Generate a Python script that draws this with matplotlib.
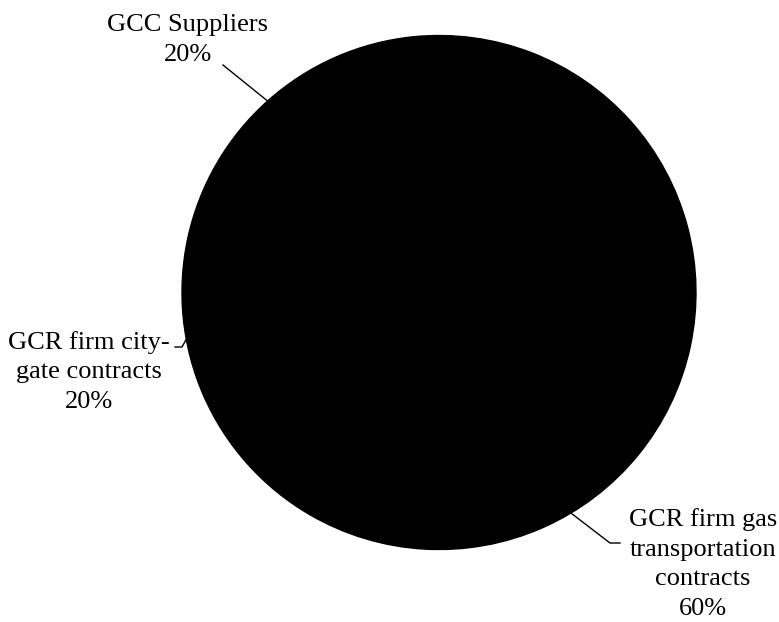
import numpy as np
import matplotlib.pyplot as plt

plt.rcParams['font.family'] = ['Liberation Serif', 'DejaVu Serif']

labels = ['GCC Suppliers\n20%',
          'GCR firm city-\ngate contracts\n20%',
          'GCR firm gas\ntransportation\ncontracts\n60%']
values = [20, 20, 60]

W, H = 779, 622
CENTER = (439, H - 292.5)
RADIUS = 257

# label block centres (pixels, y measured from the bottom)
label_pos = [(188, H - 40), (89, H - 372), (703, H - 564)]
# leader lines: angle where it meets the pie edge, then the path to the text
leader_angle = [131.8, 190.2, 300.8]
leader_path = [
    [(223, H - 65)],
    [(182, H - 347), (175, H - 347)],
    [(610, H - 543), (620, H - 543)],
]

fig = plt.figure(figsize=(W / 100, H / 100), dpi=100)
ax = fig.add_axes([0, 0, 1, 1])

ax.pie(values, colors=['black'] * len(values), center=CENTER, radius=RADIUS,
       startangle=95.8, counterclock=True, frame=True,
       wedgeprops=dict(edgecolor='black', linewidth=1))

for lab, pos, ang, path in zip(labels, label_pos, leader_angle, leader_path):
    a = np.deg2rad(ang)
    edge = (CENTER[0] + (RADIUS - 1) * np.cos(a), CENTER[1] + (RADIUS - 1) * np.sin(a))
    pts = [edge] + path
    ax.plot([p[0] for p in pts], [p[1] for p in pts], color='black', lw=1)
    ax.text(pos[0], pos[1], lab, ha='center', va='center', multialignment='center',
            fontsize=19, color='black', linespacing=1.45)

ax.set_xlim(0, W)
ax.set_ylim(0, H)
ax.set_aspect('equal')
ax.axis('off')

fig.savefig('out.png', dpi=100, facecolor='white')
